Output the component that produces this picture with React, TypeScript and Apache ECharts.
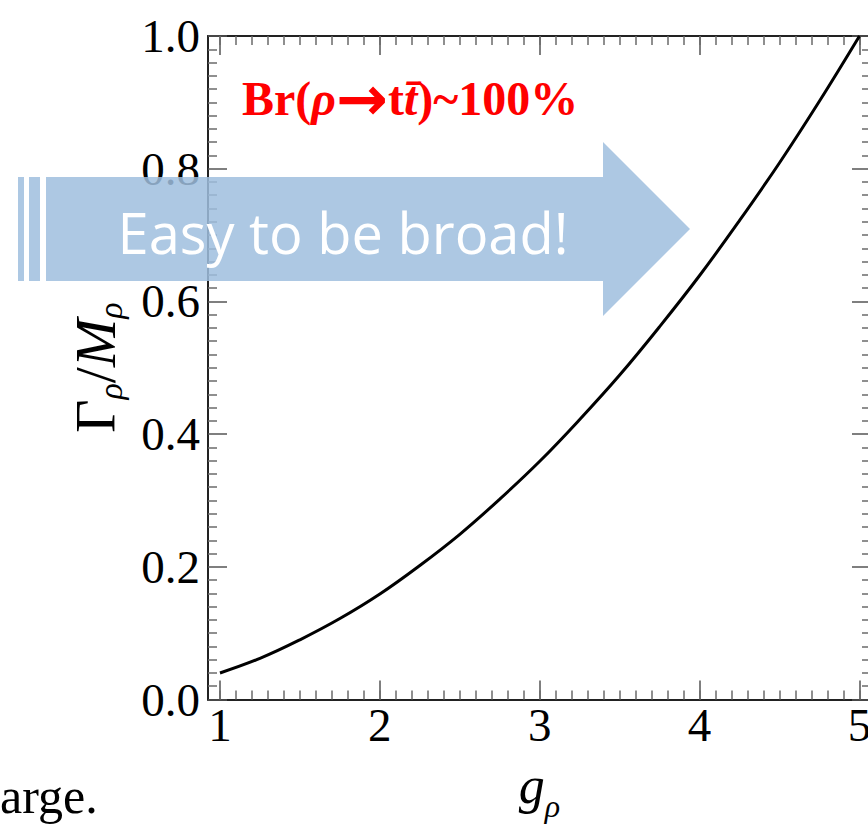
import React, { useEffect, useRef } from 'react';
import * as echarts from 'echarts';

// Data
const G_RHO = [1.0, 1.25, 1.5, 1.75, 2.0, 2.25, 2.5, 2.75, 3.0, 3.25, 3.5, 3.75, 4.0, 4.25, 4.5, 4.75, 5.0];
const WIDTH_RATIO = [0.040, 0.062, 0.090, 0.122, 0.159, 0.202, 0.249, 0.302, 0.359, 0.422, 0.489, 0.562, 0.639, 0.722, 0.809, 0.902, 1.0];
const X_TICK_LABELS = [1, 2, 3, 4, 5];
const Y_TICK_LABELS = ['0.0', '0.2', '0.4', '0.6', '0.8', '1.0'];
const X_MINOR_TICKS: number[] = [];
for (let k = 10; k <= 50; k++) X_MINOR_TICKS.push(k / 10);

const X_MIN = 0.925;
const X_MAX = 5.072;

const SERIF = '"Liberation Serif", "Times New Roman", Times, serif';
const AXIS_COLOR = '#222';
const TICK_COLOR = '#555';
const MINOR_COLOR = '#6a6a6a';

const subRich = (mainSize: number, subSize: number, pad: number) => ({
  up: { fontFamily: SERIF, fontSize: mainSize, lineHeight: mainSize, color: '#000', verticalAlign: 'top' },
  it: { fontFamily: SERIF, fontStyle: 'italic', fontSize: mainSize, lineHeight: mainSize, color: '#000', verticalAlign: 'top' },
  s: { fontFamily: SERIF, fontStyle: 'italic', fontSize: subSize, lineHeight: subSize, color: '#000', verticalAlign: 'top', padding: [pad, 0, 0, 0] },
});

export default function App() {
  const ref = useRef<HTMLDivElement>(null);
  useEffect(() => {
    if (!ref.current) return;
    const chart = echarts.init(ref.current, undefined, { renderer: 'svg' });

    const majorTickX = (pos: 'top' | 'bottom', labels: boolean) => ({
      type: 'value',
      position: pos,
      min: X_MIN,
      max: X_MAX,
      axisLine: { show: true, onZero: false, lineStyle: { color: AXIS_COLOR, width: 2 } },
      axisTick: { show: true, inside: true, length: 19, customValues: X_TICK_LABELS, lineStyle: { color: TICK_COLOR, width: 1.5 } },
      axisLabel: labels
        ? { show: true, customValues: X_TICK_LABELS, margin: 2, fontSize: 47, fontFamily: SERIF, color: '#000' }
        : { show: false },
      splitLine: { show: false },
    });
    const minorTickX = (pos: 'top' | 'bottom') => ({
      type: 'value',
      position: pos,
      min: X_MIN,
      max: X_MAX,
      axisLine: { show: false, onZero: false },
      axisTick: { show: true, inside: true, length: 9, customValues: X_MINOR_TICKS, lineStyle: { color: MINOR_COLOR, width: 1.5 } },
      axisLabel: { show: false },
      splitLine: { show: false },
    });
    const yAx = (pos: 'left' | 'right', labels: boolean) => ({
      type: 'value',
      position: pos,
      min: 0,
      max: 1,
      interval: 0.2,
      axisLine: { show: true, onZero: false, lineStyle: { color: AXIS_COLOR, width: 2 } },
      axisTick: { show: true, inside: true, length: 19, lineStyle: { color: TICK_COLOR, width: 1.5 } },
      minorTick: { show: true, splitNumber: 10, length: 9, lineStyle: { color: MINOR_COLOR, width: 1.5 } },
      axisLabel: labels
        ? {
            show: true,
            margin: 8,
            fontSize: 47,
            fontFamily: SERIF,
            color: '#000',
            padding: [0, 0, 10, 0],
            formatter: (v: number) => Y_TICK_LABELS[Math.round(v / 0.2)] ?? '',
          }
        : { show: false },
      splitLine: { show: false },
      minorSplitLine: { show: false },
    });

    const xMain: any = majorTickX('bottom', true);
    xMain.name = '{it|g}{s|ρ}';
    xMain.nameLocation = 'middle';
    xMain.nameGap = 60;
    xMain.nameTextStyle = { rich: subRich(52, 32, 30) };

    const yMain: any = yAx('left', true);
    yMain.name = '{up|Γ}{s|ρ}{up|/}{it|M}{s|ρ}';
    yMain.nameLocation = 'middle';
    yMain.nameRotate = 90;
    yMain.nameGap = 84;
    yMain.nameTextStyle = { rich: subRich(58, 34, 27) };

    const option: any = {
      animation: false,
      backgroundColor: '#fff',
      grid: { left: 208, right: -3, top: 36, bottom: 126.5, containLabel: false, outerBoundsMode: 'none' },
      xAxis: [xMain, minorTickX('bottom'), majorTickX('top', false), minorTickX('top')],
      yAxis: [yMain, yAx('right', false)],
      series: [
        {
          type: 'line',
          xAxisIndex: 0,
          yAxisIndex: 0,
          data: G_RHO.map((g, i) => [g, WIDTH_RATIO[i]]),
          showSymbol: false,
          smooth: 0.4,
          lineStyle: { color: '#000', width: 3 },
          silent: true,
        },
      ],
      graphic: [
        { type: 'rect', z: 100, shape: { x: 18, y: 177, width: 6, height: 104 }, style: { fill: 'rgba(159,190,222,0.85)' } },
        { type: 'rect', z: 100, shape: { x: 29, y: 177, width: 11, height: 104 }, style: { fill: 'rgba(159,190,222,0.85)' } },
        {
          type: 'polygon',
          z: 100,
          shape: { points: [[46, 177], [603, 177], [603, 142], [690, 229], [603, 316], [603, 281], [46, 281]] },
          style: { fill: 'rgba(159,190,222,0.85)' },
        },
        {
          type: 'text',
          z: 101,
          x: 343,
          y: 232,
          style: {
            text: 'Easy to be broad!',
            fontFamily: '"Open Sans", "Noto Sans", sans-serif',
            fontSize: 56,
            fill: '#fff',
            align: 'center',
            verticalAlign: 'middle',
          },
        },
        {
          type: 'text',
          z: 101,
          x: 242,
          y: 98,
          style: {
            text: '{b|Br(}{i|ρ}{a|→}{b|t}{i|t\u0304}{b|)~100%}',
            fill: '#ff0000',
            align: 'left',
            verticalAlign: 'middle',
            rich: {
              b: { fontFamily: SERIF, fontWeight: 'bold', fontSize: 48, fill: '#ff0000' },
              i: { fontFamily: SERIF, fontWeight: 'bold', fontStyle: 'italic', fontSize: 48, fill: '#ff0000' },
              a: { fontFamily: '"DejaVu Sans", sans-serif', fontWeight: 'bold', fontSize: 62, fill: '#ff0000' },
            },
          },
        },
        {
          type: 'text',
          z: 101,
          x: 0,
          y: 796,
          style: {
            text: 'arge.',
            fontFamily: SERIF,
            fontSize: 50,
            fill: '#000',
            align: 'left',
            verticalAlign: 'middle',
          },
        },
      ],
    };
    chart.setOption(option);
    return () => chart.dispose();
  }, []);

  return (
    <div
      ref={ref}
      style={{ position: 'fixed', left: 0, top: 0, width: 868, height: 826, background: '#fff' }}
    />
  );
}
